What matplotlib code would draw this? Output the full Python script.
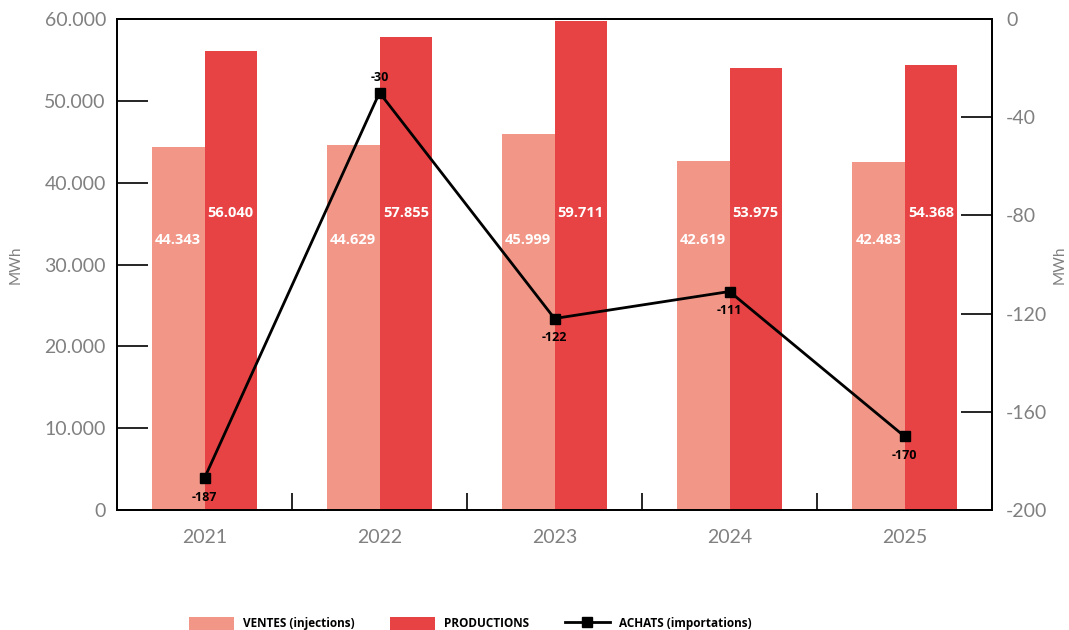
import matplotlib.pyplot as plt
import matplotlib.ticker as mticker
import numpy as np

plt.rcParams['font.family'] = ['Lato', 'DejaVu Sans']
plt.rcParams['axes.unicode_minus'] = False

years = ['2021', '2022', '2023', '2024', '2025']
ventes = [44343, 44629, 45999, 42619, 42483]
productions = [56040, 57855, 59711, 53975, 54368]
achats = [-187, -30, -122, -111, -170]

c_ventes = '#F29788'
c_prod = '#E84344'
gray = '#808080'
bold_font = ['Open Sans', 'DejaVu Sans']

def fmt_thousands(v, pos=None):
    return '{:,.0f}'.format(v).replace(',', '.')

fig = plt.figure(figsize=(10.69, 6.3), dpi=100)
ax = fig.add_axes([117 / 1069, 1 - 510 / 630, 875 / 1069, 491 / 630])
x = np.arange(len(years))
w = 0.3

b1 = ax.bar(x - w / 2, ventes, w, color=c_ventes, label='VENTES (injections)', zorder=2)
b2 = ax.bar(x + w / 2, productions, w, color=c_prod, label='PRODUCTIONS', zorder=2)

for i in range(len(years)):
    ax.text(x[i] - w / 2, 33000, fmt_thousands(ventes[i]), color='white', fontweight='bold',
            family=bold_font, fontsize=10.5, ha='center', va='center', zorder=3)
    ax.text(x[i] + w / 2, 36300, fmt_thousands(productions[i]), color='white', fontweight='bold',
            family=bold_font, fontsize=10.5, ha='center', va='center', zorder=3)

ax.set_xlim(-0.5, len(years) - 0.5)
ax.set_ylim(0, 60000)
ax.set_yticks(np.arange(0, 60001, 10000))
ax.yaxis.set_major_formatter(mticker.FuncFormatter(fmt_thousands))
ax.set_xticks(x)
ax.set_xticklabels(years)
ax.set_xticks(np.arange(0.5, len(years) - 0.5, 1), minor=True)
ax.tick_params(axis='x', which='major', length=0, pad=14, labelsize=14, labelcolor=gray)
ax.tick_params(axis='x', which='minor', direction='in', length=12, width=1.2)
ax.tick_params(axis='y', direction='in', length=22, width=1.2, labelsize=14, labelcolor=gray, pad=8)
ax.set_ylabel('MWh', color=gray, fontsize=11, labelpad=16)
for s in ax.spines.values():
    s.set_linewidth(1.3)

ax2 = ax.twinx()
ln, = ax2.plot(x, achats, color='black', lw=2, marker='s', markersize=7, label='ACHATS (importations)', zorder=4)
ax2.set_ylim(-200, 0)
ax2.set_yticks(np.arange(-200, 1, 40))
ax2.tick_params(axis='y', direction='in', length=22, width=1.2, labelsize=14, labelcolor=gray, pad=10)
ax2.set_ylabel('MWh', color=gray, fontsize=11, rotation=90, labelpad=4)
for s in ax2.spines.values():
    s.set_linewidth(1.3)

for i, v in enumerate(achats):
    off = 11 if i == 1 else -14
    ax2.annotate(str(v), (x[i], v), xytext=(0, off), textcoords='offset points',
                 ha='center', va='center', fontsize=9, fontweight='bold', family=bold_font, color='black')

fig.legend(handles=[b1, b2, ln], loc='lower center', bbox_to_anchor=(0.44, -0.017), ncol=3,
           frameon=False, handlelength=3.8, handleheight=1.3, columnspacing=3.0,
           prop={'family': bold_font, 'weight': 'bold', 'size': 8.5})

fig.savefig('out.png', dpi=100)
